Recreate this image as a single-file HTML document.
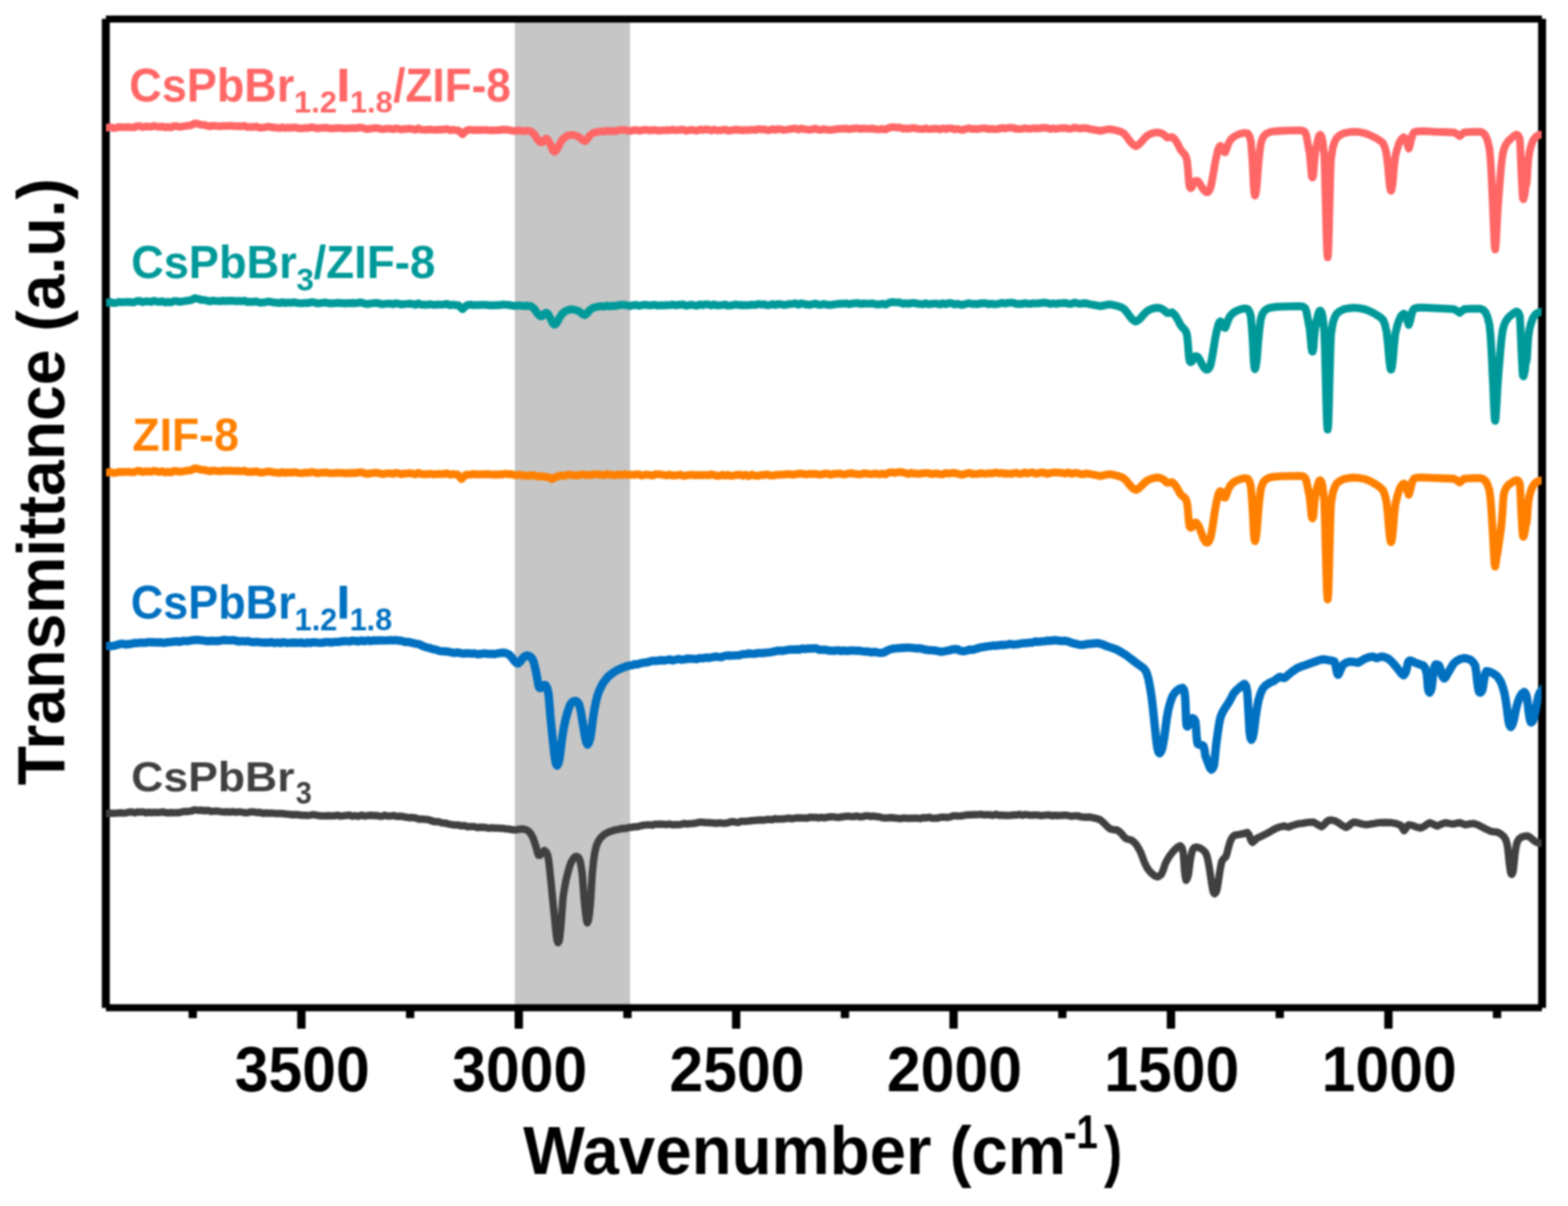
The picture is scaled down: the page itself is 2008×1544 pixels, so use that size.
<!DOCTYPE html>
<html lang="en"><head><meta charset="utf-8"><title>FTIR spectra</title>
<style>
html,body{margin:0;padding:0;background:#fff;}
body{width:2008px;height:1544px;overflow:hidden;}
svg{display:block;}
#fig{width:2008px;height:1544px;filter:blur(1px);}
text{font-family:"Liberation Sans",sans-serif;font-weight:bold;}
.crv{fill:none;stroke-linejoin:round;stroke-linecap:butt;}
</style></head><body>
<div id="fig">
<svg width="2008" height="1544" viewBox="0 0 2008 1544">
<defs><clipPath id="plot"><rect x="135.8" y="24" width="1838.4" height="1266"/></clipPath></defs>
<rect x="0" y="0" width="2008" height="1544" fill="#ffffff"/>
<rect x="659.3" y="24" width="147.6" height="1266" fill="#c6c6c6"/>
<g fill="#000"><rect x="130.4" y="24.1" width="10.2" height="1266.3"/><rect x="1969.7" y="24.1" width="10.2" height="1266.3"/><rect x="135.6" y="19.9" width="1839.1" height="9"/><rect x="135.6" y="1285.7" width="1839.1" height="9"/></g>
<polyline class="crv" clip-path="url(#plot)" stroke="#404040" stroke-width="9.5" points="131.5,1041.8 137.5,1041.8 141.7,1041.1 145.8,1041.3 150.0,1041.0 153.7,1040.6 157.4,1040.9 161.2,1040.8 164.9,1039.7 168.6,1039.5 172.4,1040.6 176.1,1039.6 179.8,1039.8 183.4,1039.4 187.0,1040.7 190.6,1039.8 194.2,1040.5 197.8,1039.9 201.4,1040.2 205.0,1040.0 208.5,1039.5 212.0,1040.3 215.5,1040.7 219.1,1040.2 222.6,1040.6 226.1,1040.5 229.6,1040.3 234.8,1039.0 240.0,1039.0 244.8,1038.4 249.5,1036.9 253.7,1037.4 257.8,1037.3 262.0,1038.0 266.4,1037.4 270.7,1038.9 275.0,1038.4 279.4,1038.6 283.1,1039.1 286.7,1039.5 290.4,1039.3 294.0,1039.8 297.7,1039.1 301.3,1039.9 305.0,1039.5 309.0,1039.5 313.1,1040.5 317.1,1040.5 321.1,1039.4 325.2,1039.6 329.2,1040.3 332.9,1040.0 336.6,1041.4 340.3,1040.8 343.9,1041.2 347.6,1040.9 351.3,1041.4 355.0,1041.6 359.0,1041.6 363.0,1041.8 367.0,1042.3 371.0,1042.5 375.0,1043.2 379.0,1042.8 382.7,1043.2 386.4,1043.7 390.1,1043.7 393.9,1044.0 397.6,1043.6 401.3,1042.9 405.0,1043.6 409.0,1044.3 412.9,1044.6 416.9,1044.6 420.9,1044.2 424.8,1044.5 428.8,1044.3 432.5,1043.8 436.3,1044.8 440.0,1044.4 443.8,1044.0 447.5,1043.6 451.3,1044.9 455.0,1044.3 458.9,1045.1 462.9,1043.6 466.8,1044.8 470.7,1044.2 474.7,1043.7 478.6,1044.3 482.2,1044.0 485.7,1044.9 489.3,1045.1 492.9,1043.8 496.4,1044.8 500.0,1044.7 504.0,1044.1 508.0,1045.3 512.0,1044.9 516.0,1045.3 520.0,1046.3 524.0,1046.9 528.0,1046.6 532.3,1047.3 536.6,1048.7 540.9,1048.6 544.9,1049.1 549.0,1049.5 553.0,1051.0 557.3,1052.0 561.5,1051.9 565.8,1053.5 569.9,1053.7 573.9,1054.8 578.0,1055.6 582.2,1056.3 586.5,1056.2 590.7,1057.3 594.8,1056.9 598.9,1058.5 603.0,1058.2 607.2,1058.2 611.4,1059.5 615.6,1059.0 622.4,1059.6 626.3,1060.4 630.1,1059.8 634.0,1060.2 637.6,1060.3 641.2,1060.5 644.8,1060.6 648.4,1061.3 652.0,1061.5 655.9,1062.2 659.8,1062.6 664.5,1061.8 668.7,1061.3 672.5,1061.9 676.2,1063.5 679.3,1066.8 682.2,1071.7 684.5,1078.0 686.7,1085.2 688.2,1091.0 689.6,1094.9 691.5,1095.0 694.1,1092.6 695.7,1090.2 697.1,1088.9 699.5,1090.6 701.6,1095.6 703.2,1106.0 704.6,1119.5 706.1,1134.0 707.6,1149.4 709.1,1164.5 710.6,1179.3 711.7,1190.5 712.8,1200.2 713.8,1205.3 714.7,1206.9 715.8,1205.3 716.8,1200.2 717.8,1190.5 718.8,1179.3 719.9,1164.5 721.0,1149.4 722.8,1137.5 724.8,1127.0 727.3,1116.5 730.0,1107.6 732.2,1102.4 734.5,1098.6 736.8,1096.7 739.0,1096.4 741.0,1098.0 742.7,1101.6 744.3,1109.5 745.7,1119.5 746.8,1134.0 747.9,1149.4 749.1,1161.5 750.2,1171.8 751.2,1178.8 752.1,1181.5 753.3,1178.8 754.6,1171.8 755.6,1161.5 756.6,1149.4 757.5,1134.0 758.4,1119.5 759.8,1105.0 761.4,1092.6 763.4,1084.0 765.8,1077.7 769.3,1072.4 773.3,1068.7 779.5,1065.2 783.1,1064.1 786.8,1062.8 791.9,1061.9 797.0,1060.6 801.1,1060.8 805.1,1059.5 809.2,1059.0 812.8,1058.4 816.4,1058.3 820.0,1057.4 823.9,1056.5 827.7,1056.1 831.6,1056.0 835.3,1056.4 839.0,1055.3 842.8,1055.2 846.5,1055.0 850.2,1055.4 854.0,1055.6 857.8,1055.0 861.5,1056.0 865.0,1055.7 868.5,1055.7 872.0,1055.4 876.0,1054.3 879.9,1055.0 883.9,1054.5 888.0,1054.3 892.0,1053.6 896.0,1052.5 900.0,1052.8 904.0,1053.3 908.0,1053.3 912.0,1053.6 916.3,1054.0 920.5,1053.5 924.8,1053.8 928.3,1053.9 931.8,1053.6 935.4,1052.2 938.9,1052.0 942.4,1052.7 945.9,1052.9 949.4,1051.4 953.0,1051.5 956.5,1051.4 960.0,1051.0 963.6,1050.5 967.2,1050.3 970.8,1050.0 974.4,1049.8 978.0,1050.0 981.5,1049.3 985.1,1049.1 988.7,1049.5 992.3,1048.1 995.9,1048.7 999.5,1048.4 1003.3,1048.6 1007.1,1047.8 1010.9,1047.5 1014.8,1048.3 1018.6,1047.2 1022.4,1047.0 1026.2,1047.2 1030.0,1047.2 1033.7,1047.4 1037.3,1046.3 1041.0,1046.6 1044.7,1046.5 1048.3,1047.2 1052.0,1046.4 1055.6,1047.0 1059.3,1046.3 1063.1,1045.7 1067.0,1045.8 1070.8,1046.2 1074.7,1046.5 1078.5,1045.7 1082.3,1045.2 1086.2,1044.9 1090.0,1045.4 1093.6,1045.4 1097.2,1044.8 1100.9,1045.7 1104.5,1045.6 1108.1,1044.5 1111.8,1044.6 1115.4,1045.4 1119.0,1044.8 1122.5,1045.5 1126.0,1045.8 1130.0,1047.0 1134.0,1047.2 1137.8,1047.1 1141.5,1046.8 1145.2,1047.2 1149.0,1047.6 1152.7,1048.1 1156.5,1047.3 1160.2,1047.5 1163.9,1047.8 1167.6,1047.6 1171.3,1047.5 1175.0,1047.4 1178.6,1048.1 1182.3,1046.7 1186.0,1047.2 1189.8,1046.3 1193.6,1047.6 1197.3,1047.4 1201.1,1047.4 1204.9,1046.3 1208.7,1046.3 1212.5,1046.6 1216.3,1046.1 1220.2,1044.6 1224.0,1044.6 1227.7,1044.7 1231.3,1044.5 1234.9,1043.9 1238.6,1043.3 1242.3,1043.3 1245.9,1042.9 1249.6,1043.0 1253.3,1042.8 1257.0,1042.5 1260.7,1043.4 1264.3,1042.9 1268.0,1043.2 1271.8,1043.7 1275.6,1042.5 1279.4,1043.9 1283.2,1043.6 1286.9,1043.9 1290.7,1043.9 1294.5,1043.9 1298.3,1043.3 1301.8,1043.5 1305.3,1042.6 1308.9,1043.8 1312.4,1042.9 1315.9,1043.1 1319.4,1043.8 1323.0,1043.6 1326.5,1043.4 1330.0,1043.6 1333.5,1044.3 1337.0,1043.9 1340.5,1043.5 1344.0,1043.4 1347.6,1044.4 1351.1,1043.8 1354.6,1044.3 1358.1,1043.9 1361.7,1043.8 1365.3,1043.7 1368.8,1044.4 1372.4,1045.0 1376.0,1044.6 1379.8,1044.4 1383.6,1045.6 1387.3,1046.1 1391.1,1046.2 1394.9,1046.0 1402.0,1047.4 1408.4,1049.3 1412.3,1052.4 1415.9,1056.0 1418.8,1059.0 1421.8,1061.3 1426.0,1062.2 1430.8,1062.8 1434.0,1065.0 1436.8,1068.0 1439.0,1070.8 1441.3,1073.2 1445.0,1074.6 1448.7,1075.5 1451.7,1077.6 1454.7,1080.7 1457.7,1085.5 1460.7,1091.1 1463.0,1097.0 1465.2,1103.1 1467.4,1108.0 1469.6,1112.1 1472.6,1115.8 1475.6,1118.8 1479.0,1121.4 1482.3,1122.5 1485.0,1121.4 1487.6,1118.8 1489.9,1113.0 1492.1,1106.1 1495.0,1100.4 1498.0,1095.6 1501.7,1090.8 1505.5,1086.7 1508.6,1084.2 1511.5,1082.9 1513.6,1085.4 1515.2,1091.1 1516.0,1101.0 1516.7,1112.1 1517.7,1121.5 1518.9,1127.0 1520.4,1124.8 1521.9,1119.5 1523.1,1110.5 1524.2,1101.6 1525.6,1093.8 1527.2,1088.2 1529.3,1085.2 1531.6,1084.4 1535.0,1085.2 1538.4,1086.7 1541.5,1089.0 1544.4,1092.6 1546.4,1099.0 1548.1,1107.6 1549.6,1117.0 1551.1,1127.0 1552.2,1134.5 1553.3,1140.4 1554.4,1143.4 1555.6,1144.2 1557.0,1142.6 1558.5,1139.0 1560.0,1130.0 1561.5,1119.5 1563.0,1110.5 1564.5,1103.1 1567.0,1099.6 1569.7,1097.1 1571.3,1092.5 1572.7,1086.7 1574.5,1080.2 1576.5,1074.7 1578.6,1071.4 1581.0,1069.5 1585.0,1068.6 1589.2,1068.0 1593.5,1067.0 1597.4,1065.7 1599.4,1068.6 1601.1,1073.2 1602.6,1076.8 1604.1,1078.4 1606.3,1076.6 1608.6,1074.0 1612.3,1072.0 1616.1,1070.2 1620.5,1068.0 1625.0,1065.7 1629.5,1063.0 1634.0,1060.5 1639.3,1058.6 1644.5,1057.5 1647.5,1058.4 1650.4,1058.8 1654.0,1057.2 1657.9,1056.0 1663.0,1054.6 1668.4,1054.0 1672.0,1053.3 1677.0,1052.8 1682.2,1052.5 1687.4,1055.6 1692.3,1058.4 1695.5,1056.0 1698.5,1052.4 1702.5,1049.9 1706.0,1050.0 1709.3,1050.8 1714.0,1053.2 1718.8,1056.8 1723.7,1059.3 1727.0,1057.5 1730.5,1054.2 1733.8,1052.5 1738.0,1053.2 1744.0,1054.8 1749.9,1055.9 1757.0,1054.8 1765.1,1053.3 1773.5,1053.0 1782.1,1053.3 1788.0,1054.4 1793.9,1056.7 1796.2,1060.5 1798.2,1063.5 1800.4,1060.6 1802.4,1057.2 1804.1,1055.9 1809.0,1056.8 1814.0,1058.8 1819.3,1060.1 1823.5,1058.2 1827.5,1055.2 1831.2,1053.3 1835.8,1055.4 1840.5,1057.6 1846.0,1055.0 1851.5,1053.3 1856.5,1054.4 1861.7,1055.0 1866.0,1053.8 1870.1,1053.3 1873.5,1054.8 1876.9,1055.9 1882.0,1054.8 1887.0,1054.2 1892.0,1055.8 1897.2,1058.4 1903.0,1061.5 1909.1,1064.3 1913.3,1064.9 1917.5,1065.2 1921.8,1067.6 1926.0,1071.1 1928.3,1075.0 1930.2,1081.3 1931.4,1090.5 1932.4,1101.6 1933.5,1110.5 1934.5,1116.8 1935.2,1118.8 1935.9,1119.4 1936.8,1118.2 1937.8,1115.1 1938.9,1105.5 1939.9,1094.8 1941.3,1085.0 1942.9,1077.9 1945.3,1074.0 1948.0,1072.0 1952.2,1070.6 1956.5,1070.3 1960.0,1072.4 1963.2,1075.3 1965.8,1077.3 1968.3,1078.7 1971.0,1079.4 1974.2,1079.6 1980.2,1080.0"/>
<polyline class="crv" clip-path="url(#plot)" stroke="#0070c0" stroke-width="10.7" points="131.5,827.0 137.5,827.0 141.7,827.3 145.8,826.8 150.0,825.6 153.7,824.5 157.4,824.2 161.2,825.1 164.9,824.6 168.6,824.1 172.4,823.2 176.1,823.3 179.8,822.8 183.4,822.9 187.0,822.8 190.6,822.0 194.2,822.3 197.8,822.2 201.4,822.6 205.0,822.2 208.5,822.9 212.0,822.8 215.5,822.1 219.1,821.9 222.6,821.5 226.1,821.1 229.6,821.8 234.8,820.5 240.0,820.8 244.8,820.0 249.5,819.3 253.7,819.3 257.8,819.7 262.0,820.2 266.4,820.9 270.7,820.4 275.0,820.6 279.4,820.6 283.1,820.0 286.9,819.4 290.6,819.7 294.3,819.8 298.2,819.5 302.1,820.3 306.1,821.3 310.0,820.8 313.8,821.3 317.7,820.7 321.5,822.0 325.4,822.1 329.2,821.8 332.9,822.3 336.6,822.7 340.3,822.5 343.9,822.7 347.6,822.1 351.3,823.2 355.0,822.5 359.0,823.3 363.0,822.1 367.0,823.1 371.0,823.0 375.0,822.7 379.0,822.8 382.7,822.8 386.4,822.7 390.1,823.4 393.9,822.6 397.6,823.1 401.3,822.3 405.0,822.5 409.0,823.0 412.9,822.9 416.9,822.1 420.9,822.1 424.8,822.6 428.8,821.8 432.5,822.0 436.3,821.4 440.0,820.8 443.8,820.8 447.5,821.3 451.3,820.2 455.0,820.6 458.9,821.1 462.9,820.0 466.8,820.9 470.7,819.8 474.7,820.7 478.6,819.8 482.2,820.1 485.7,819.8 489.3,819.8 492.8,820.0 496.4,819.9 499.9,819.5 503.5,819.8 507.0,819.5 510.5,820.2 514.0,820.4 518.7,821.8 523.4,821.8 527.7,823.1 532.0,824.0 536.5,824.7 540.9,826.8 545.2,828.6 549.5,829.4 553.9,831.0 558.3,831.8 563.1,833.5 568.0,833.8 573.1,834.1 578.2,835.3 582.1,836.0 586.1,835.3 590.0,836.3 594.4,836.7 598.7,836.3 603.1,836.8 607.4,836.5 611.7,837.6 616.0,837.1 620.6,836.5 625.3,837.2 629.9,837.2 634.0,837.4 638.0,836.4 644.8,835.6 648.8,836.4 652.3,838.3 655.5,841.8 658.3,845.7 661.0,848.5 663.5,849.5 666.0,847.4 668.7,843.5 671.5,840.6 674.7,839.0 678.0,840.0 681.4,842.8 683.4,847.5 685.2,854.7 686.8,862.0 688.2,869.6 689.3,876.0 690.4,880.1 692.0,881.0 694.9,878.6 696.8,877.0 698.6,877.1 700.6,880.8 702.3,887.6 703.5,900.0 704.6,914.5 706.1,929.5 707.6,944.4 709.1,958.5 710.6,971.2 712.0,977.8 713.3,980.2 714.9,977.8 716.5,971.2 718.0,960.0 719.5,947.3 721.6,934.0 724.0,921.9 727.0,911.0 730.0,902.5 733.2,898.4 736.7,897.3 739.5,898.8 741.9,902.5 743.9,911.0 745.7,921.9 747.6,933.5 749.4,944.4 750.9,950.5 752.4,953.3 754.2,950.5 756.1,944.4 757.6,934.0 759.1,921.9 760.9,910.0 762.9,899.5 765.0,891.0 767.3,884.6 770.8,877.0 774.8,871.1 779.0,866.0 783.8,862.2 788.8,858.8 794.2,856.2 801.0,853.6 805.1,852.2 809.2,851.7 812.8,850.4 816.4,850.6 820.0,849.2 823.9,848.4 827.7,848.2 831.6,847.2 835.4,846.0 839.2,846.1 843.0,845.9 846.7,845.1 850.3,845.6 854.0,845.0 857.7,844.2 861.3,845.5 865.0,844.6 868.8,843.7 872.6,844.7 876.4,844.2 880.3,843.2 884.1,843.3 888.0,843.5 892.0,843.8 896.0,842.5 900.0,842.8 904.0,841.9 908.0,842.4 912.0,841.5 916.0,840.6 920.0,841.0 924.0,841.4 927.9,839.7 931.9,839.2 935.8,839.3 939.8,839.2 943.6,839.0 947.3,838.8 951.1,837.5 954.9,837.4 958.7,836.6 962.5,836.9 966.2,837.0 970.0,836.2 973.7,836.2 977.4,836.1 981.1,835.5 984.8,835.3 988.4,834.7 992.1,833.9 995.8,833.1 999.5,833.2 1003.6,833.1 1007.7,832.2 1011.8,831.5 1015.9,831.7 1020.0,831.4 1023.6,831.8 1027.1,830.4 1030.7,830.9 1034.3,830.4 1037.8,830.4 1041.4,830.2 1045.3,830.2 1049.1,832.0 1053.0,831.8 1057.1,831.9 1061.2,832.9 1065.3,833.2 1069.2,833.1 1073.2,832.5 1077.1,833.5 1081.1,832.9 1085.0,833.5 1088.8,832.9 1092.6,832.9 1096.5,833.1 1100.3,833.1 1104.1,833.8 1108.1,834.2 1112.0,834.2 1116.0,835.2 1120.0,834.6 1124.2,835.5 1128.3,835.9 1132.5,835.3 1136.0,833.0 1140.0,831.4 1144.5,830.3 1149.0,830.0 1153.5,829.6 1157.9,829.3 1163.0,829.0 1168.0,829.5 1171.6,829.9 1175.2,830.2 1178.8,830.2 1183.2,831.4 1187.6,832.1 1192.0,832.5 1196.6,832.7 1201.1,833.6 1205.7,834.4 1210.8,833.5 1216.0,832.6 1219.5,831.4 1223.1,831.1 1226.6,831.4 1230.0,833.2 1234.1,833.8 1238.1,832.9 1242.0,831.6 1246.0,831.8 1250.0,830.6 1253.7,829.5 1257.4,828.6 1261.0,828.1 1264.7,827.5 1268.4,827.2 1272.0,826.4 1275.6,826.6 1279.2,826.1 1282.8,825.6 1286.4,825.8 1290.0,825.2 1293.9,824.4 1297.8,825.2 1301.7,825.0 1305.5,824.3 1309.4,823.5 1313.3,823.3 1317.5,822.9 1321.7,822.6 1325.8,821.4 1330.0,821.7 1334.0,821.2 1338.0,821.0 1342.1,820.1 1346.1,820.3 1350.5,819.6 1355.0,820.1 1359.5,820.7 1364.1,820.3 1368.5,821.5 1373.0,823.2 1377.5,824.3 1382.0,825.4 1386.0,825.7 1390.0,824.9 1394.0,824.4 1405.9,823.3 1412.0,825.0 1417.8,827.5 1424.0,829.5 1430.0,831.6 1436.0,835.0 1442.0,838.8 1448.0,843.2 1453.9,847.8 1459.0,851.5 1464.4,855.3 1467.0,858.5 1468.8,862.8 1470.4,868.0 1471.8,874.7 1473.3,883.0 1474.8,892.6 1476.3,905.5 1477.8,919.5 1479.0,931.0 1480.1,941.9 1481.2,951.0 1482.3,958.4 1483.6,963.0 1485.0,964.4 1486.6,962.6 1488.3,958.4 1489.8,951.0 1491.3,941.9 1492.7,931.0 1494.2,919.5 1496.0,909.5 1498.0,901.6 1499.8,895.8 1501.7,891.1 1504.5,886.8 1507.7,883.7 1511.0,881.6 1514.4,880.7 1516.2,883.0 1517.4,889.6 1518.1,900.0 1518.6,912.1 1519.0,922.5 1519.6,929.0 1520.6,930.2 1522.0,928.2 1523.4,925.5 1525.2,921.6 1527.1,919.5 1529.2,920.6 1530.9,924.0 1531.7,932.0 1532.3,941.9 1533.0,948.5 1533.8,952.4 1535.6,953.4 1537.6,953.9 1539.6,954.0 1541.3,955.4 1542.5,960.0 1543.6,967.3 1545.8,973.5 1548.0,979.3 1549.7,983.4 1551.3,985.3 1553.1,983.6 1554.8,979.3 1555.9,969.0 1557.0,956.9 1558.5,945.0 1560.0,934.5 1561.5,925.0 1563.0,918.0 1566.0,911.2 1569.0,906.1 1572.0,901.8 1574.9,897.1 1577.2,892.8 1579.4,888.2 1583.0,884.0 1586.9,880.7 1590.4,877.6 1593.6,875.5 1595.8,878.5 1597.3,886.7 1598.1,899.0 1598.8,912.1 1599.6,925.5 1600.3,937.5 1601.4,944.5 1602.6,947.2 1604.2,944.0 1605.6,937.5 1606.7,929.0 1607.8,919.5 1609.6,907.5 1611.5,897.1 1614.0,888.6 1616.8,882.2 1619.6,878.6 1622.7,876.2 1627.0,873.6 1631.7,871.7 1635.5,868.6 1639.2,866.5 1642.2,867.6 1645.1,868.0 1648.0,865.6 1651.1,862.8 1656.3,858.8 1661.6,855.3 1666.8,853.2 1672.0,851.5 1678.0,849.2 1684.0,847.1 1689.3,845.2 1694.5,844.1 1699.0,844.8 1703.4,845.6 1706.5,846.0 1708.9,846.8 1710.4,851.5 1711.6,858.5 1712.6,862.6 1713.6,863.9 1715.0,861.6 1716.7,857.5 1718.5,853.6 1720.5,850.6 1724.5,848.2 1728.9,847.0 1734.0,847.6 1739.0,848.5 1743.4,846.0 1747.7,843.4 1752.8,841.4 1757.8,840.5 1760.8,841.8 1763.5,842.7 1766.4,841.4 1769.3,840.5 1773.6,841.4 1778.0,843.4 1782.4,847.2 1786.7,852.1 1789.6,855.8 1792.4,859.3 1795.0,862.8 1797.5,864.4 1799.4,862.2 1801.1,857.9 1802.2,852.0 1803.3,847.8 1804.7,846.0 1806.2,845.6 1810.0,847.2 1814.1,849.2 1818.5,850.6 1822.8,852.1 1825.2,855.6 1827.1,862.2 1827.9,870.5 1828.5,879.5 1829.5,884.6 1830.7,886.8 1832.2,884.6 1833.6,879.5 1834.7,869.0 1835.8,859.3 1837.1,853.4 1838.6,850.7 1840.8,850.8 1843.0,852.1 1844.5,856.5 1845.9,862.2 1847.7,866.6 1849.5,868.7 1851.3,867.0 1853.1,863.7 1855.2,860.0 1857.4,856.4 1859.6,852.6 1861.8,849.2 1865.3,846.2 1869.0,844.2 1872.6,843.0 1876.2,842.7 1879.8,843.4 1883.4,844.9 1886.5,847.8 1889.2,852.1 1890.4,860.0 1891.4,869.4 1892.4,877.5 1893.5,883.9 1894.6,886.4 1895.7,886.8 1897.2,885.4 1898.6,882.4 1899.7,875.5 1900.8,868.0 1902.1,862.4 1903.6,859.3 1906.4,859.6 1909.4,860.8 1913.0,862.6 1916.6,865.1 1919.6,869.0 1922.4,873.8 1924.7,880.5 1926.8,888.2 1928.3,896.5 1929.6,905.5 1930.7,914.5 1931.8,922.9 1933.2,928.6 1934.7,930.8 1936.5,928.4 1938.3,922.9 1940.1,914.5 1941.9,905.5 1944.0,898.2 1946.2,892.5 1949.0,888.0 1952.0,886.0 1954.0,888.4 1955.6,894.0 1956.7,903.0 1957.8,912.8 1959.2,921.0 1960.7,925.0 1962.5,923.6 1964.3,920.0 1965.8,913.0 1967.2,905.5 1968.6,898.0 1970.1,891.1 1972.0,886.5 1974.2,883.9 1980.2,876.8"/>
<polyline class="crv" clip-path="url(#plot)" stroke="#ff8000" stroke-width="10.1" points="131.5,605.0 137.5,605.0 141.2,604.1 145.0,605.5 148.8,605.2 152.5,604.0 156.2,604.4 160.0,604.3 163.8,604.1 167.5,604.4 171.2,604.6 175.0,603.1 178.8,602.9 182.5,604.4 186.2,603.5 190.0,603.6 193.6,604.1 197.1,602.7 200.7,603.6 204.3,604.2 207.9,603.3 211.4,604.8 215.0,604.0 218.8,604.8 222.5,603.1 226.2,603.1 230.0,604.0 235.0,603.4 240.0,602.5 244.8,601.9 249.5,599.5 253.8,600.3 258.0,601.5 261.7,601.6 265.3,602.6 269.0,603.4 272.5,602.4 276.0,602.8 279.5,603.1 283.0,603.2 286.5,602.6 290.0,603.1 293.8,602.6 297.6,602.7 301.4,603.2 305.2,602.9 309.0,603.4 312.9,602.6 316.8,604.3 320.6,603.9 324.5,604.1 328.4,603.3 332.2,605.0 336.1,604.9 340.0,604.3 343.6,603.6 347.2,604.1 350.9,604.9 354.5,605.0 358.1,605.5 361.8,604.5 365.4,605.4 369.0,604.8 372.7,605.2 376.5,604.5 380.2,605.1 383.9,605.8 387.6,605.7 391.4,605.1 395.1,605.3 398.8,604.3 402.5,604.7 406.3,605.9 410.0,605.3 413.5,605.2 417.1,604.7 420.6,605.5 424.2,605.8 427.7,605.8 431.3,605.2 434.8,605.4 438.4,605.5 441.9,606.1 445.5,605.6 449.0,605.6 452.6,605.4 456.3,605.6 459.9,604.7 463.6,604.8 467.2,606.1 470.9,606.7 474.5,606.0 478.1,605.6 481.8,605.2 485.4,605.9 489.1,606.9 492.7,606.5 496.4,606.0 500.0,606.0 503.6,606.7 507.1,605.5 510.7,606.1 514.3,607.1 517.9,606.3 521.4,606.2 525.0,605.8 528.6,606.4 532.1,607.3 535.7,605.4 539.3,607.0 542.9,607.1 546.4,607.3 550.0,606.6 553.8,607.1 557.5,607.3 561.2,606.8 565.0,606.9 568.8,606.7 572.5,606.0 576.2,607.7 580.0,607.0 586.0,607.6 589.0,610.8 591.0,613.2 593.5,610.6 597.0,607.7 601.3,607.7 605.7,606.9 610.0,607.3 613.8,607.4 617.5,607.3 621.2,607.1 625.0,607.1 628.8,607.5 632.5,607.6 636.2,607.6 640.0,607.4 643.6,607.4 647.1,606.6 650.7,607.1 654.3,607.0 657.9,607.9 661.4,608.5 665.0,607.8 668.8,608.6 672.5,608.8 676.2,609.1 680.0,608.6 684.0,608.5 688.0,610.0 692.0,609.6 696.0,610.4 700.0,610.5 704.0,611.7 706.8,613.3 709.5,611.7 714.0,610.1 718.0,608.8 722.0,609.3 726.3,608.0 730.7,607.8 735.0,608.5 738.8,608.9 742.5,607.8 746.2,607.4 750.0,608.1 754.0,608.3 758.0,607.7 762.0,607.2 766.0,607.3 770.0,608.0 773.8,608.1 777.6,607.3 781.3,607.6 785.1,608.4 788.9,607.9 792.7,607.7 796.4,608.0 800.2,607.1 804.0,608.0 807.5,607.8 811.1,607.9 814.6,607.4 818.2,607.3 821.7,608.9 825.2,608.1 828.8,607.5 832.3,608.3 835.8,608.8 839.4,607.2 842.9,607.2 846.5,607.4 850.0,608.2 853.6,608.6 857.1,607.5 860.7,608.6 864.3,608.6 867.9,608.3 871.4,607.7 875.0,609.2 878.6,608.8 882.1,608.3 885.7,607.7 889.3,608.6 892.9,608.1 896.4,608.4 900.0,608.3 903.6,607.9 907.1,608.6 910.7,607.4 914.3,607.9 917.9,609.2 921.4,609.0 925.0,607.9 928.6,609.0 932.1,607.9 935.7,609.2 939.3,608.8 942.9,608.1 946.4,607.8 950.0,608.3 951.0,609.1 955.0,607.9 959.0,609.5 963.0,607.6 967.0,609.0 971.0,609.1 975.0,608.0 978.6,608.1 982.1,607.3 985.7,608.6 989.3,608.8 992.9,608.2 996.4,607.8 1000.0,607.8 1003.8,607.4 1007.5,607.3 1011.2,606.9 1015.0,607.8 1018.8,607.2 1022.5,606.6 1026.2,606.4 1030.0,607.1 1033.6,607.3 1037.1,606.5 1040.7,606.9 1044.3,606.5 1047.9,607.5 1051.4,607.5 1055.0,606.6 1059.2,606.2 1063.5,607.8 1067.8,606.6 1072.0,606.6 1075.8,606.2 1079.6,607.5 1083.4,607.1 1087.2,606.1 1091.0,605.9 1094.8,606.8 1098.6,607.1 1102.4,607.2 1106.2,606.0 1110.0,606.3 1114.0,607.1 1118.0,606.7 1122.0,606.3 1126.0,607.3 1130.0,606.3 1134.0,607.3 1138.0,605.3 1141.7,604.6 1145.3,605.4 1149.0,604.8 1152.7,604.3 1156.3,604.8 1160.0,605.9 1163.6,606.7 1167.3,605.3 1170.9,606.5 1174.5,606.2 1178.2,606.7 1181.8,605.8 1185.5,605.8 1189.1,605.7 1192.7,606.9 1196.4,606.4 1200.0,606.2 1203.7,607.2 1207.4,607.1 1211.1,605.6 1214.9,606.4 1218.6,605.6 1222.3,605.5 1226.0,606.4 1232.0,607.8 1238.0,606.2 1241.5,605.3 1245.0,606.9 1248.5,606.7 1252.0,606.8 1255.5,605.8 1259.0,606.3 1262.5,606.6 1266.0,605.8 1269.5,606.2 1273.0,605.5 1276.5,605.1 1280.0,606.0 1283.6,605.5 1287.1,606.7 1290.7,606.1 1294.3,606.8 1297.9,605.8 1301.4,605.4 1305.0,606.5 1308.6,606.5 1312.1,604.9 1315.7,606.2 1319.3,605.0 1322.9,605.0 1326.4,606.6 1330.0,605.8 1333.8,604.9 1337.5,605.2 1341.2,606.7 1345.0,605.6 1348.8,604.9 1352.5,605.0 1356.2,605.1 1360.0,605.6 1364.0,606.2 1368.0,604.9 1372.0,606.6 1376.0,605.5 1380.0,605.8 1383.7,607.0 1387.5,607.1 1391.2,606.2 1394.9,606.8 1404.0,608.4 1409.9,609.4 1415.0,608.1 1420.3,607.1 1425.0,607.7 1430.8,609.1 1436.0,610.7 1439.8,612.8 1443.5,616.9 1447.2,621.7 1451.0,625.4 1454.7,627.2 1458.5,625.2 1462.2,621.7 1465.8,617.8 1469.6,614.9 1475.0,612.6 1481.6,611.3 1486.0,611.9 1490.6,614.3 1493.0,616.8 1495.0,618.2 1498.0,617.8 1501.0,617.3 1504.0,619.8 1507.0,624.1 1509.5,628.6 1511.5,632.3 1514.5,635.3 1517.5,637.6 1519.3,640.7 1520.4,645.3 1521.2,652.8 1521.9,661.5 1522.6,669.5 1523.4,674.1 1524.8,675.6 1526.3,675.1 1527.6,672.7 1529.4,669.6 1531.5,668.8 1533.9,671.2 1536.2,676.0 1538.4,682.2 1541.4,689.9 1544.4,694.4 1546.6,694.8 1548.6,692.5 1550.3,688.2 1551.8,680.6 1553.3,671.4 1554.8,661.1 1556.3,651.2 1558.2,641.4 1560.0,633.6 1561.6,629.9 1563.0,628.7 1564.6,630.9 1566.0,634.8 1567.6,636.9 1569.0,637.1 1570.5,633.6 1572.0,628.8 1573.8,624.7 1575.7,621.4 1579.2,617.9 1583.2,615.4 1587.6,613.6 1592.2,612.5 1595.5,612.4 1598.1,613.2 1600.2,616.7 1601.9,623.0 1603.0,636.2 1604.1,652.4 1604.9,667.8 1605.6,682.3 1606.3,689.8 1607.1,692.8 1608.1,689.8 1609.3,682.3 1610.4,667.8 1611.6,652.4 1613.0,638.3 1614.6,626.1 1616.6,619.7 1619.1,615.6 1622.5,613.0 1626.5,611.2 1633.0,610.2 1641.5,609.8 1652.0,609.5 1663.9,609.3 1668.6,609.8 1671.3,611.5 1673.0,615.7 1674.9,625.1 1677.2,636.2 1678.5,648.8 1679.4,658.6 1680.1,662.9 1680.8,663.7 1681.5,662.4 1682.1,658.6 1682.8,648.7 1684.1,636.2 1686.4,625.4 1688.3,618.3 1689.5,615.3 1690.8,614.9 1692.2,616.8 1693.7,622.5 1695.9,640.2 1696.7,663.1 1697.3,686.8 1698.0,712.4 1698.5,733.3 1699.2,753.4 1699.7,763.4 1700.2,767.4 1700.8,763.4 1701.3,753.4 1701.9,733.3 1702.4,712.4 1703.1,686.8 1703.7,663.1 1704.5,645.0 1706.9,630.5 1709.4,623.2 1711.8,619.0 1716.0,615.6 1721.1,613.2 1727.5,612.0 1734.7,611.4 1741.5,612.1 1748.2,613.4 1755.0,616.2 1761.8,620.0 1767.0,623.7 1771.1,627.5 1773.4,633.3 1775.5,642.4 1777.2,657.5 1778.5,673.9 1779.8,687.5 1780.7,693.0 1781.4,694.2 1782.2,692.5 1783.0,687.0 1784.0,677.7 1785.2,662.0 1786.8,646.3 1789.1,636.5 1791.4,628.6 1794.0,622.6 1797.3,619.0 1799.2,619.7 1800.7,622.3 1802.4,628.3 1804.1,633.5 1805.6,628.9 1807.5,620.9 1809.0,615.6 1810.9,612.6 1814.5,611.5 1819.3,611.3 1827.0,611.5 1836.3,612.0 1848.0,612.4 1861.7,612.9 1865.5,614.8 1869.3,617.6 1872.3,615.0 1875.2,612.7 1884.0,612.3 1895.5,612.0 1899.3,613.2 1902.3,615.5 1905.0,620.5 1907.4,628.1 1908.7,638.1 1909.9,652.9 1911.0,671.2 1912.2,691.1 1912.9,705.1 1913.6,716.6 1914.1,723.1 1914.7,725.4 1915.3,723.1 1916.1,716.6 1918.1,705.0 1920.2,691.1 1922.4,675.0 1923.9,659.2 1924.7,644.9 1925.6,633.7 1927.0,628.3 1928.9,624.3 1932.0,620.4 1936.1,617.8 1939.5,615.6 1942.1,614.6 1944.4,615.8 1946.3,619.2 1947.2,633.0 1948.0,651.8 1948.9,668.3 1949.7,681.3 1950.2,686.1 1950.9,687.2 1951.8,684.8 1953.0,679.8 1953.4,675.2 1953.9,672.2 1954.8,670.4 1955.6,665.1 1956.2,655.2 1957.0,644.5 1958.6,635.0 1960.8,627.4 1963.2,622.0 1965.8,618.7 1968.5,616.6 1971.7,615.7 1974.5,615.0 1980.5,613.5"/>
<polyline class="crv" clip-path="url(#plot)" stroke="#009999" stroke-width="10.1" points="131.5,387.5 137.5,387.5 141.2,386.6 145.0,388.0 148.8,387.7 152.5,386.5 156.2,386.9 160.0,386.8 163.8,386.6 167.5,386.9 171.2,387.1 175.0,385.6 178.8,385.3 182.5,386.8 186.2,385.9 190.0,386.0 193.6,386.5 197.1,385.1 200.7,386.0 204.3,386.6 207.9,385.7 211.4,387.2 215.0,386.4 218.8,387.2 222.5,385.5 226.2,385.5 230.0,386.4 235.0,385.8 240.0,384.9 244.8,384.3 249.5,381.8 253.8,382.6 258.0,383.9 261.7,384.0 265.3,385.0 269.0,385.8 272.5,384.8 276.0,385.2 279.5,385.5 283.0,385.6 286.5,385.0 290.0,385.5 293.8,385.0 297.6,385.1 301.4,385.6 305.2,385.3 309.0,385.8 312.9,385.0 316.8,386.7 320.6,386.3 324.5,386.6 328.4,385.8 332.2,387.5 336.1,387.4 340.0,386.8 343.6,386.1 347.2,386.6 350.9,387.4 354.5,387.5 358.1,388.0 361.8,387.0 365.4,387.9 369.0,387.3 372.7,387.7 376.5,387.1 380.2,387.7 383.9,388.3 387.6,388.3 391.4,387.7 395.1,387.9 398.8,386.8 402.5,387.3 406.3,388.5 410.0,387.9 413.5,387.8 417.1,387.3 420.6,388.1 424.2,388.4 427.7,388.3 431.3,387.8 434.8,387.9 438.4,388.1 441.9,388.6 445.5,388.1 449.0,388.1 452.6,387.9 456.3,388.2 459.9,387.3 463.6,387.4 467.2,388.7 470.9,389.3 474.5,388.6 478.1,388.2 481.8,387.8 485.4,388.5 489.1,389.5 492.7,389.1 496.4,388.7 500.0,388.7 503.6,389.5 507.1,388.3 510.7,388.9 514.3,389.8 517.9,389.2 521.4,389.0 525.0,388.7 528.6,389.3 532.1,390.2 535.7,388.3 539.3,389.9 542.9,390.1 546.4,390.3 550.0,389.6 553.8,390.1 557.5,390.3 561.2,389.8 565.0,390.0 568.8,389.7 572.5,389.1 576.2,390.8 580.0,390.1 583.5,390.6 587.0,390.8 590.0,393.7 592.3,396.0 595.0,393.3 598.0,390.7 602.0,390.0 606.0,390.6 610.0,390.5 613.8,390.5 617.5,390.3 621.2,390.3 625.0,390.7 628.8,390.9 632.5,390.9 636.2,390.6 640.0,390.7 643.6,389.8 647.1,390.2 650.7,390.2 654.3,391.0 657.9,391.6 661.4,391.5 665.0,390.9 670.0,391.8 675.0,391.4 680.0,392.1 684.0,395.2 688.0,401.1 691.5,404.7 694.0,404.9 697.0,401.7 699.5,400.3 702.0,402.0 705.0,407.8 708.0,413.9 710.0,415.6 712.5,414.1 716.0,407.8 720.0,401.5 724.0,398.4 728.0,396.7 732.0,396.0 737.0,396.9 742.0,398.8 746.0,402.1 749.0,403.4 752.0,401.1 755.0,397.1 759.0,394.4 764.0,392.8 770.0,392.0 773.8,392.5 777.5,391.3 781.2,392.3 785.0,391.5 788.8,391.8 792.6,390.6 796.4,390.4 800.2,390.3 804.0,391.2 807.5,391.7 811.1,390.7 814.6,390.4 818.2,391.4 821.7,390.8 825.2,390.2 828.8,390.4 832.3,391.1 835.8,390.3 839.4,390.5 842.9,391.3 846.5,390.8 850.0,390.9 853.6,390.5 857.1,390.8 860.7,389.9 864.3,390.6 867.9,390.6 871.4,390.1 875.0,389.9 878.6,391.5 882.1,390.7 885.7,390.1 889.3,390.9 892.9,391.3 896.4,389.7 900.0,390.6 903.6,389.6 907.1,389.8 910.7,391.0 914.3,389.8 917.9,390.9 921.4,390.8 925.0,390.5 928.6,389.9 932.1,391.3 935.7,391.0 939.3,390.4 942.9,389.8 946.4,390.6 950.0,390.3 951.0,390.9 955.0,390.5 959.0,390.7 963.0,390.0 967.0,390.5 971.0,389.2 975.0,389.9 978.6,389.5 982.1,390.7 985.7,390.5 989.3,389.3 992.9,390.4 996.4,389.2 1000.0,389.6 1003.8,390.4 1007.5,390.0 1011.2,389.3 1015.0,388.9 1018.8,388.4 1022.5,390.1 1026.2,388.4 1030.0,389.3 1033.6,389.9 1037.1,390.2 1040.7,389.4 1044.3,388.6 1047.9,390.0 1051.4,390.2 1055.0,389.2 1059.2,390.2 1063.5,390.4 1067.8,389.8 1072.0,389.2 1075.8,388.9 1079.6,388.8 1083.4,388.5 1087.2,389.4 1091.0,388.8 1094.8,388.3 1098.6,388.1 1102.4,389.2 1106.2,388.4 1110.0,388.8 1114.0,388.8 1118.0,388.5 1122.0,389.6 1126.0,389.7 1130.0,388.9 1134.0,389.9 1138.0,387.9 1141.7,386.7 1145.3,386.9 1149.0,387.3 1152.7,387.2 1156.3,388.9 1160.0,388.3 1163.6,388.9 1167.3,388.0 1170.9,387.8 1174.5,388.8 1178.2,389.2 1181.8,389.4 1185.5,388.3 1189.1,389.4 1192.7,389.1 1196.4,388.7 1200.0,388.8 1203.7,389.8 1207.4,388.3 1211.1,389.4 1214.9,388.1 1218.6,388.3 1222.3,389.8 1226.0,389.0 1232.0,390.4 1238.0,388.8 1241.5,388.2 1245.0,389.3 1248.5,388.9 1252.0,389.4 1255.5,388.4 1259.0,388.4 1262.5,388.2 1266.0,389.4 1269.5,388.8 1273.0,389.5 1276.5,389.4 1280.0,388.6 1283.6,387.8 1287.1,388.6 1290.7,387.7 1294.3,387.6 1297.9,387.7 1301.4,389.2 1305.0,389.1 1308.6,389.1 1312.1,388.1 1315.7,388.7 1319.3,389.0 1322.9,388.2 1326.4,388.5 1330.0,388.4 1333.8,387.8 1337.5,387.5 1341.2,387.9 1345.0,389.1 1348.8,388.4 1352.5,389.1 1356.2,388.2 1360.0,388.2 1364.0,387.8 1368.0,388.9 1372.0,389.0 1376.0,387.4 1380.0,388.4 1383.7,389.0 1387.5,388.1 1391.2,388.4 1394.9,389.4 1404.0,391.0 1409.9,392.0 1415.0,390.7 1420.3,389.7 1425.0,390.3 1430.8,391.7 1436.0,393.4 1439.8,395.7 1443.5,400.2 1447.2,405.6 1451.0,409.7 1454.7,411.7 1458.5,409.5 1462.2,405.6 1465.8,401.3 1469.6,397.9 1475.0,395.3 1481.6,394.0 1486.0,394.6 1490.6,396.9 1493.0,399.4 1495.0,400.8 1498.0,400.4 1501.0,399.9 1504.0,402.5 1507.0,406.8 1509.5,411.5 1511.5,415.7 1514.5,419.5 1517.5,422.4 1519.3,425.8 1520.4,430.9 1521.2,439.0 1521.9,448.4 1522.6,457.0 1523.4,462.0 1524.8,463.7 1526.3,463.0 1527.6,460.3 1529.4,456.9 1531.5,455.9 1533.9,456.9 1536.2,460.2 1538.4,464.7 1541.4,470.1 1544.4,473.1 1546.6,473.2 1548.6,471.0 1550.3,466.9 1551.8,459.7 1553.3,451.4 1554.8,441.8 1556.3,432.7 1558.2,423.5 1560.0,416.0 1561.6,412.5 1563.0,411.4 1564.6,413.5 1566.0,417.4 1567.6,419.5 1569.0,419.7 1570.5,416.2 1572.0,411.5 1573.8,407.4 1575.7,404.1 1579.2,400.6 1583.2,398.1 1587.6,396.3 1592.2,395.1 1595.5,395.0 1598.1,395.8 1600.2,399.2 1601.9,405.2 1603.0,418.0 1604.1,433.6 1604.9,448.5 1605.6,462.5 1606.3,469.7 1607.1,472.6 1608.1,469.7 1609.3,462.5 1610.4,448.5 1611.6,433.7 1613.0,420.0 1614.6,408.2 1616.6,402.1 1619.1,398.2 1622.5,395.6 1626.5,393.9 1633.0,392.9 1641.5,392.5 1652.0,392.2 1663.9,392.0 1668.6,392.5 1671.3,394.2 1673.0,398.7 1674.9,408.8 1677.2,420.8 1678.5,434.2 1679.4,444.7 1680.1,449.3 1680.8,450.2 1681.5,448.8 1682.1,444.7 1682.8,434.2 1684.1,420.7 1686.4,409.1 1688.3,401.5 1689.5,398.3 1690.8,397.7 1692.2,399.4 1693.7,405.1 1695.9,422.9 1696.7,445.8 1697.3,469.4 1698.0,495.0 1698.5,516.0 1699.2,536.1 1699.7,546.1 1700.2,550.0 1700.8,546.0 1701.3,536.1 1701.9,516.0 1702.4,495.0 1703.1,469.4 1703.7,445.7 1704.5,427.7 1706.9,413.1 1709.4,405.8 1711.8,401.7 1716.0,398.2 1721.1,395.8 1727.5,394.6 1734.7,394.0 1741.5,394.7 1748.2,396.0 1755.0,398.8 1761.8,402.4 1767.0,405.8 1771.1,409.4 1773.4,415.0 1775.5,423.7 1777.2,438.2 1778.5,453.9 1779.8,466.9 1780.7,472.2 1781.4,473.3 1782.2,471.7 1783.0,466.5 1784.0,457.5 1785.2,442.5 1786.8,427.4 1789.1,418.0 1791.4,410.4 1794.0,404.8 1797.3,401.5 1799.2,402.2 1800.7,404.8 1802.4,410.8 1804.1,416.0 1805.6,411.5 1807.5,403.4 1809.0,398.1 1810.9,395.1 1814.5,394.1 1819.3,393.8 1827.0,394.0 1836.3,394.5 1848.0,395.0 1861.7,395.7 1865.5,397.7 1869.3,400.5 1872.3,397.9 1875.2,395.7 1884.0,395.3 1895.5,395.3 1899.3,396.7 1902.3,399.8 1905.0,406.1 1907.4,415.8 1908.7,428.4 1909.9,447.0 1911.0,470.2 1912.2,495.3 1912.9,513.0 1913.6,527.5 1914.1,535.8 1914.7,538.7 1915.3,535.8 1915.9,527.5 1916.8,513.0 1917.7,495.3 1919.2,475.0 1920.9,455.0 1922.5,437.0 1924.3,422.9 1926.2,416.0 1928.5,411.0 1932.0,406.1 1936.1,402.8 1939.5,400.0 1942.1,398.8 1944.4,400.3 1946.3,404.5 1947.2,420.1 1948.0,440.1 1948.9,459.2 1949.7,474.8 1950.2,480.6 1950.9,481.9 1951.8,479.1 1953.0,473.4 1953.4,468.1 1953.9,464.6 1954.8,462.6 1955.6,456.5 1956.2,445.1 1957.0,432.8 1958.6,422.0 1960.8,413.3 1963.2,406.9 1965.8,403.1 1968.5,400.7 1971.7,399.7 1974.5,398.9 1980.5,397.2"/>
<polyline class="crv" clip-path="url(#plot)" stroke="#ff6666" stroke-width="9.8" points="131.5,163.5 137.5,163.5 141.2,162.6 145.0,164.0 148.8,163.7 152.5,162.5 156.2,162.9 160.0,162.8 163.8,162.6 167.5,162.9 171.2,163.1 175.0,161.6 178.8,161.3 182.5,162.8 186.2,161.9 190.0,162.0 193.6,162.5 197.1,161.1 200.7,162.0 204.3,162.6 207.9,161.7 211.4,163.2 215.0,162.4 218.8,163.2 222.5,161.5 226.2,161.5 230.0,162.4 235.0,161.8 240.0,160.9 244.8,160.3 249.5,157.8 253.8,158.6 258.0,159.9 261.7,160.0 265.3,161.0 269.0,161.8 272.5,160.8 276.0,161.2 279.5,161.5 283.0,161.6 286.5,161.0 290.0,161.5 293.8,161.0 297.6,161.1 301.4,161.6 305.2,161.3 309.0,161.8 312.9,161.0 316.8,162.7 320.6,162.3 324.5,162.6 328.4,161.8 332.2,163.5 336.1,163.4 340.0,162.8 343.6,162.1 347.2,162.6 350.9,163.4 354.5,163.5 358.1,164.0 361.8,163.0 365.4,163.9 369.0,163.3 372.7,163.7 376.5,163.1 380.2,163.7 383.9,164.3 387.6,164.3 391.4,163.7 395.1,163.9 398.8,162.8 402.5,163.3 406.3,164.5 410.0,163.9 413.5,163.8 417.1,163.3 420.6,164.1 424.2,164.4 427.7,164.3 431.3,163.8 434.8,163.9 438.4,164.1 441.9,164.6 445.5,164.1 449.0,164.1 452.6,163.9 456.3,164.2 459.9,163.3 463.6,163.4 467.2,164.7 470.9,165.3 474.5,164.6 478.1,164.2 481.8,163.8 485.4,164.5 489.1,165.5 492.7,165.1 496.4,164.7 500.0,164.7 503.6,165.5 507.1,164.3 510.7,164.9 514.3,165.8 517.9,165.2 521.4,165.0 525.0,164.7 528.6,165.3 532.1,166.2 535.7,164.3 539.3,165.9 542.9,166.1 546.4,166.3 550.0,165.6 553.8,166.1 557.5,166.3 561.2,165.8 565.0,166.0 568.8,165.7 572.5,165.1 576.2,166.8 580.0,166.1 583.5,166.6 587.0,166.8 590.0,169.7 592.3,172.0 595.0,169.3 598.0,166.7 602.0,166.0 606.0,166.6 610.0,166.5 613.8,166.5 617.5,166.3 621.2,166.3 625.0,166.7 628.8,166.9 632.5,166.9 636.2,166.6 640.0,166.7 643.6,165.8 647.1,166.2 650.7,166.2 654.3,167.0 657.9,167.6 661.4,167.5 665.0,166.9 670.0,167.8 675.0,167.4 680.0,168.2 684.0,171.6 688.0,178.1 691.5,182.1 694.0,182.5 697.0,178.9 699.5,177.3 702.0,179.2 705.0,185.7 708.0,192.5 710.0,194.3 712.5,192.7 716.0,185.7 720.0,178.7 724.0,175.2 728.0,173.3 732.0,172.5 737.0,173.5 742.0,175.7 746.0,179.3 749.0,180.7 752.0,178.2 755.0,173.7 759.0,170.7 764.0,169.0 770.0,168.0 773.8,168.5 777.5,167.3 781.2,168.3 785.0,167.5 788.8,167.8 792.6,166.6 796.4,166.4 800.2,166.3 804.0,167.2 807.5,167.7 811.1,166.7 814.6,166.4 818.2,167.4 821.7,166.8 825.2,166.2 828.8,166.4 832.3,167.1 835.8,166.3 839.4,166.5 842.9,167.3 846.5,166.8 850.0,166.9 853.6,166.5 857.1,166.8 860.7,165.9 864.3,166.6 867.9,166.6 871.4,166.1 875.0,165.9 878.6,167.5 882.1,166.7 885.7,166.1 889.3,166.9 892.9,167.3 896.4,165.7 900.0,166.6 903.6,165.6 907.1,165.8 910.7,167.0 914.3,165.8 917.9,166.9 921.4,166.8 925.0,166.5 928.6,165.9 932.1,167.3 935.7,167.0 939.3,166.4 942.9,165.8 946.4,166.6 950.0,166.3 951.0,166.9 955.0,166.5 959.0,166.7 963.0,166.0 967.0,166.5 971.0,165.2 975.0,165.9 978.6,165.5 982.1,166.7 985.7,166.5 989.3,165.3 992.9,166.4 996.4,165.2 1000.0,165.6 1003.8,166.4 1007.5,166.0 1011.2,165.3 1015.0,164.9 1018.8,164.4 1022.5,166.1 1026.2,164.4 1030.0,165.3 1033.6,165.9 1037.1,166.2 1040.7,165.4 1044.3,164.6 1047.9,166.0 1051.4,166.2 1055.0,165.2 1059.2,166.2 1063.5,166.4 1067.8,165.8 1072.0,165.2 1075.8,164.9 1079.6,164.8 1083.4,164.5 1087.2,165.4 1091.0,164.8 1094.8,164.3 1098.6,164.1 1102.4,165.2 1106.2,164.4 1110.0,164.8 1114.0,164.8 1118.0,164.5 1122.0,165.6 1126.0,165.7 1130.0,164.9 1134.0,165.9 1138.0,163.9 1141.7,162.7 1145.3,162.9 1149.0,163.3 1152.7,163.2 1156.3,164.9 1160.0,164.3 1163.6,164.9 1167.3,164.0 1170.9,163.8 1174.5,164.8 1178.2,165.2 1181.8,165.4 1185.5,164.3 1189.1,165.4 1192.7,165.1 1196.4,164.7 1200.0,164.8 1203.7,165.8 1207.4,164.3 1211.1,165.4 1214.9,164.1 1218.6,164.3 1222.3,165.8 1226.0,165.0 1232.0,166.4 1238.0,164.8 1241.5,164.2 1245.0,165.3 1248.5,164.9 1252.0,165.4 1255.5,164.4 1259.0,164.4 1262.5,164.2 1266.0,165.4 1269.5,164.8 1273.0,165.5 1276.5,165.4 1280.0,164.6 1283.6,163.8 1287.1,164.6 1290.7,163.7 1294.3,163.6 1297.9,163.7 1301.4,165.2 1305.0,165.1 1308.6,165.1 1312.1,164.1 1315.7,164.7 1319.3,165.0 1322.9,164.2 1326.4,164.5 1330.0,164.4 1333.8,163.8 1337.5,163.5 1341.2,163.9 1345.0,165.1 1348.8,164.4 1352.5,165.1 1356.2,164.2 1360.0,164.2 1364.0,163.8 1368.0,164.8 1372.0,164.8 1376.0,163.2 1380.0,164.1 1383.7,164.7 1387.5,163.8 1391.2,164.1 1394.9,165.1 1404.0,166.7 1409.9,167.6 1415.0,166.3 1420.3,165.3 1425.0,165.9 1430.8,167.3 1436.0,168.9 1439.8,171.2 1443.5,175.8 1447.2,181.1 1451.0,185.2 1454.7,187.2 1458.5,185.0 1462.2,181.1 1465.8,176.8 1469.6,173.4 1475.0,170.7 1481.6,169.4 1486.0,170.0 1490.6,172.3 1493.0,174.8 1495.0,176.2 1498.0,175.8 1501.0,175.3 1504.0,177.8 1507.0,182.1 1509.5,186.8 1511.5,191.1 1514.5,194.9 1517.5,198.2 1519.3,202.0 1520.4,207.2 1521.2,215.5 1521.9,225.1 1522.6,234.0 1523.4,239.1 1524.8,240.8 1526.3,239.8 1527.6,236.7 1529.4,232.8 1531.5,231.3 1533.9,231.8 1536.2,234.5 1538.4,238.5 1541.4,243.1 1544.4,246.0 1546.6,246.1 1548.6,243.9 1550.3,240.1 1551.8,233.1 1553.3,225.2 1554.8,216.1 1556.3,207.3 1558.2,198.4 1560.0,191.1 1561.6,187.7 1563.0,186.6 1564.6,188.7 1566.0,192.6 1567.6,194.7 1569.0,194.9 1570.5,191.5 1572.0,186.7 1573.8,182.6 1575.7,179.3 1579.2,175.8 1583.2,173.3 1587.6,171.5 1592.2,170.3 1595.5,170.2 1598.1,171.0 1600.2,174.5 1601.9,180.8 1603.0,194.0 1604.1,210.2 1604.9,225.6 1605.6,240.1 1606.3,247.6 1607.1,250.6 1608.1,247.6 1609.3,240.1 1610.4,225.6 1611.6,210.2 1613.0,196.1 1614.6,183.9 1616.6,177.5 1619.1,173.4 1622.5,170.7 1626.5,168.9 1633.0,168.0 1641.5,167.5 1652.0,167.2 1663.9,167.0 1668.6,167.4 1671.3,169.2 1673.0,173.8 1674.9,184.3 1677.2,196.8 1678.5,210.8 1679.4,221.7 1680.1,226.5 1680.8,227.4 1681.5,225.9 1682.1,221.7 1682.8,210.7 1684.1,196.7 1686.4,184.6 1688.3,176.7 1689.5,173.3 1690.8,172.6 1692.2,174.4 1693.7,180.3 1695.9,198.6 1696.7,222.2 1697.3,246.6 1698.0,273.0 1698.5,294.5 1699.2,315.2 1699.7,325.5 1700.2,329.6 1700.8,325.5 1701.3,315.2 1701.9,294.5 1702.4,272.9 1703.1,246.5 1703.7,222.1 1704.5,203.5 1706.9,188.5 1709.4,180.9 1711.8,176.6 1716.0,173.0 1721.1,170.5 1727.5,169.2 1734.7,168.6 1741.5,169.2 1748.2,170.6 1755.0,173.3 1761.8,176.7 1767.0,179.9 1771.1,183.2 1773.4,188.5 1775.5,196.8 1777.2,210.7 1778.5,225.7 1779.8,238.2 1780.7,243.2 1781.4,244.3 1782.2,242.7 1783.0,237.7 1784.0,229.1 1785.2,214.7 1786.8,200.4 1789.1,191.3 1791.4,184.0 1794.0,178.8 1797.3,175.7 1799.2,176.5 1800.7,179.1 1802.4,185.1 1804.1,190.3 1805.6,185.7 1807.5,177.7 1809.0,172.4 1810.9,169.3 1814.5,168.3 1819.3,168.0 1827.0,168.2 1836.3,168.7 1848.0,169.0 1861.7,169.5 1865.5,171.4 1869.3,174.2 1872.3,171.6 1875.2,169.3 1884.0,168.9 1895.5,168.6 1899.3,170.1 1902.3,173.3 1905.0,180.0 1907.4,190.2 1908.7,203.5 1909.9,223.1 1911.0,247.5 1912.2,273.9 1912.9,292.4 1913.6,307.7 1914.1,316.4 1914.7,319.5 1915.3,316.4 1915.9,307.7 1916.8,292.4 1917.7,273.8 1919.2,252.4 1920.9,231.4 1922.5,212.4 1924.3,197.6 1926.2,190.3 1928.5,185.0 1932.0,179.9 1936.1,176.5 1939.5,173.4 1942.1,172.2 1944.4,173.7 1946.3,178.1 1947.2,194.2 1948.0,214.4 1948.9,233.3 1949.7,248.3 1950.2,253.8 1950.9,255.1 1951.8,252.3 1953.0,246.6 1953.4,241.3 1953.9,237.8 1954.8,235.8 1955.6,229.7 1956.2,218.3 1957.0,206.0 1958.6,195.1 1960.8,186.4 1963.2,180.1 1965.8,176.3 1968.5,173.8 1971.7,172.8 1974.5,172.0 1980.5,170.2"/>
<g fill="#000"><rect x="380.6" y="1290" width="10.7" height="27.1" rx="1.2"/><rect x="659.0" y="1290" width="10.7" height="27.1" rx="1.2"/><rect x="937.4" y="1290" width="10.7" height="27.1" rx="1.2"/><rect x="1215.8" y="1290" width="10.7" height="27.1" rx="1.2"/><rect x="1494.2" y="1290" width="10.7" height="27.1" rx="1.2"/><rect x="1772.7" y="1290" width="10.7" height="27.1" rx="1.2"/><rect x="241.5" y="1290" width="10.7" height="13.6" rx="1.2"/><rect x="519.9" y="1290" width="10.7" height="13.6" rx="1.2"/><rect x="798.2" y="1290" width="10.7" height="13.6" rx="1.2"/><rect x="1076.7" y="1290" width="10.7" height="13.6" rx="1.2"/><rect x="1355.1" y="1290" width="10.7" height="13.6" rx="1.2"/><rect x="1633.5" y="1290" width="10.7" height="13.6" rx="1.2"/><rect x="1911.8" y="1290" width="10.7" height="13.6" rx="1.2"/></g>
<text transform="translate(387.0,1397) scale(1,1.04)" font-size="77.8" text-anchor="middle" fill="#000">3500</text>
<text transform="translate(665.4,1397) scale(1,1.04)" font-size="77.8" text-anchor="middle" fill="#000">3000</text>
<text transform="translate(943.8,1397) scale(1,1.04)" font-size="77.8" text-anchor="middle" fill="#000">2500</text>
<text transform="translate(1222.2,1397) scale(1,1.04)" font-size="77.8" text-anchor="middle" fill="#000">2000</text>
<text transform="translate(1500.6,1397) scale(1,1.04)" font-size="77.8" text-anchor="middle" fill="#000">1500</text>
<text transform="translate(1779.0,1397) scale(1,1.04)" font-size="77.8" text-anchor="middle" fill="#000">1000</text>
<text transform="translate(0,1503.3) scale(1,1.04)" font-size="83.4" fill="#000"><tspan x="670.0" y="0" font-size="83.4" textLength="695.2" lengthAdjust="spacingAndGlyphs">Wavenumber (cm</tspan><tspan x="1362.2" y="-32.2" font-size="58" textLength="43.8" lengthAdjust="spacingAndGlyphs">-1</tspan><tspan x="1413.7" y="0" font-size="83.4" textLength="23.5" lengthAdjust="spacingAndGlyphs">)</tspan></text>
<text transform="translate(81.7,1005.4) rotate(-90) scale(1,1.04)" font-size="82.3" fill="#000">Transmittance (a.u.)</text>
<text font-size="60.5" fill="#ff6666"><tspan x="165.6" y="130.2" font-size="60.5" textLength="211.3" lengthAdjust="spacingAndGlyphs">CsPbBr</tspan><tspan x="376.5" y="144.0" font-size="38.4" textLength="55.2" lengthAdjust="spacingAndGlyphs">1.2</tspan><tspan x="430.4" y="130.2" font-size="60.5" textLength="18.4" lengthAdjust="spacingAndGlyphs">I</tspan><tspan x="448.2" y="144.0" font-size="38.4" textLength="54.7" lengthAdjust="spacingAndGlyphs">1.8</tspan><tspan x="503.6" y="130.2" font-size="60.5" textLength="150.6" lengthAdjust="spacingAndGlyphs">/ZIF-8</tspan></text>
<text font-size="60.0" fill="#009999"><tspan x="167.9" y="355.8" font-size="60.0" textLength="212.2" lengthAdjust="spacingAndGlyphs">CsPbBr</tspan><tspan x="379.6" y="372.1" font-size="40.4" textLength="22.5" lengthAdjust="spacingAndGlyphs">3</tspan><tspan x="401.6" y="355.8" font-size="60.0" textLength="155.9" lengthAdjust="spacingAndGlyphs">/ZIF-8</tspan></text>
<text font-size="59.6" fill="#ff8000"><tspan x="169.5" y="577.0" font-size="59.6" textLength="136.4" lengthAdjust="spacingAndGlyphs">ZIF-8</tspan></text>
<text font-size="60.5" fill="#0070c0"><tspan x="167.4" y="791.8" font-size="60.5" textLength="211.2" lengthAdjust="spacingAndGlyphs">CsPbBr</tspan><tspan x="377.3" y="806.9" font-size="41.0" textLength="54.7" lengthAdjust="spacingAndGlyphs">1.2</tspan><tspan x="430.8" y="791.8" font-size="60.5" textLength="18.0" lengthAdjust="spacingAndGlyphs">I</tspan><tspan x="447.9" y="806.9" font-size="41.0" textLength="54.3" lengthAdjust="spacingAndGlyphs">1.8</tspan></text>
<text font-size="54.5" fill="#404040"><tspan x="168.1" y="1012.8" font-size="54.5" textLength="209.1" lengthAdjust="spacingAndGlyphs">CsPbBr</tspan><tspan x="378.8" y="1029.3" font-size="41.5" textLength="20.6" lengthAdjust="spacingAndGlyphs">3</tspan></text>
</svg>
</div>
</body></html>
